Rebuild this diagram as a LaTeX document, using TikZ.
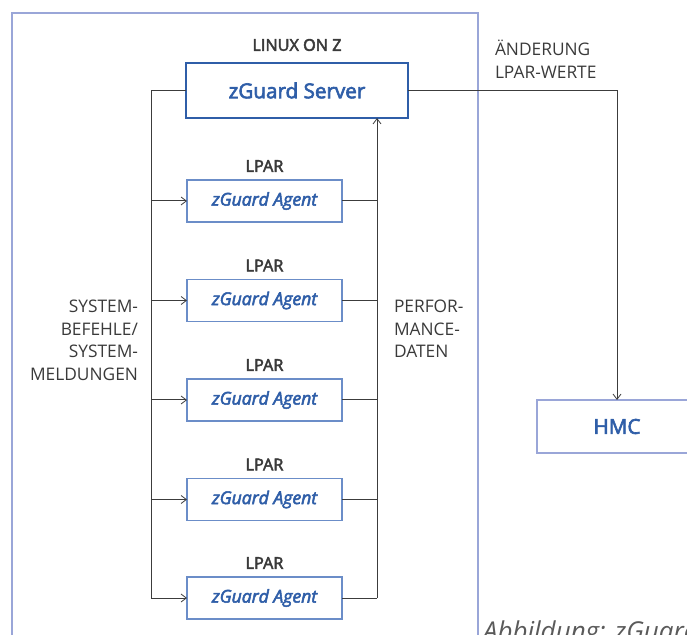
\documentclass[tikz,border=0pt]{standalone}
\usepackage{fontspec}
\setmainfont{Open Sans}
\newfontfamily\osemi{Open Sans}[FakeBold=3]
\usetikzlibrary{arrows.meta}
\definecolor{txtgray}{HTML}{3A3A3A}
\definecolor{capgray}{HTML}{5A5A5A}
\definecolor{zblue}{HTML}{2F5EA8}
\definecolor{agentborder}{HTML}{6B8DC8}
\definecolor{outerborder}{HTML}{9AA6D8}
\definecolor{linegray}{HTML}{3C3C3C}
\tikzset{
  every node/.style={inner sep=0pt, outer sep=0pt},
  lbl/.style={text=txtgray, font=\fontsize{13}{17}\selectfont},
  hdr/.style={text=txtgray, font=\fontsize{12.2}{14}\osemi},
  agentbox/.style={draw=agentborder, line width=1pt, minimum width=155*0.75pt, minimum height=42*0.75pt, text=zblue, font=\fontsize{13.2}{15}\osemi\itshape},
  serverbox/.style={draw=zblue, line width=1.9pt, minimum width=222*0.75pt, minimum height=55*0.75pt, text=zblue, font=\fontsize{15.5}{18}\osemi},
  hmcbox/.style={draw=outerborder, line width=2.2pt, minimum width=160*0.75pt, minimum height=53*0.75pt, text=zblue, font=\fontsize{15.5}{17}\osemi},
  conn/.style={draw=linegray, line width=0.75pt},
  tip/.style={-{Straight Barb[length=4pt,width=6pt,line width=0.6pt]}}
}
\begin{document}
\begin{tikzpicture}[x=0.75pt,y=-0.75pt]
\useasboundingbox (0,0) rectangle (687,635);
\clip (0,0) rectangle (687,635);
% outer box
\draw[draw=outerborder, line width=1.6pt] (12,13) rectangle (478,680);
\node[hdr] (linux) at (297,45) {LINUX ON Z};
\node[serverbox] (server) at (297,90.5) {zGuard Server};
% agents
\foreach \i/\y in {1/201,2/300.5,3/400,4/499.5,5/598}{
  \node[agentbox] (a\i) at (264.5,\y) {zGuard Agent};
  \node[hdr] (l\i) at (264.5,\y-35) {LPAR};
}
% bus coordinates
\coordinate (lt) at (151,90.5);
\coordinate (lb) at (151,598);
\coordinate (rb) at (377,598);
\coordinate (rt) at (377,118);
\draw[conn] (server.west) -- (lt) -- (lb);
\foreach \i in {1,...,5}{
  \draw[conn,tip] (151,0 |- a\i.west) -- (a\i.west);
  \draw[conn] (a\i.east) -- (377,0 |- a\i.east);
}
\draw[conn] (rb) -- (377,150);
\draw[conn,tip] (377,150) -- (server.south -| rt);
% HMC
\node[hmcbox] (hmc) at (617,426.5) {HMC};
\coordinate (hc) at (617,90.5);
\draw[conn] (server.east) -- (hc);
\draw[conn,tip] (hc) -- (hmc.north);
% labels
\node[lbl, anchor=north west, align=left] (chg) at (495,40) {ÄNDERUNG\\LPAR-WERTE};
\node[lbl, anchor=north east, align=right] (sys) at (138,300) {SYSTEM-\\BEFEHLE/\\SYSTEM-\\MELDUNGEN};
\node[lbl, anchor=north west, align=left] (perf) at (394,300) {PERFOR-\\MANCE-\\DATEN};
\node[text=capgray, font=\fontsize{19.5}{21}\selectfont\itshape, anchor=base west] (cap) at (483,640) {Abbildung: zGuard};
\end{tikzpicture}
\end{document}
